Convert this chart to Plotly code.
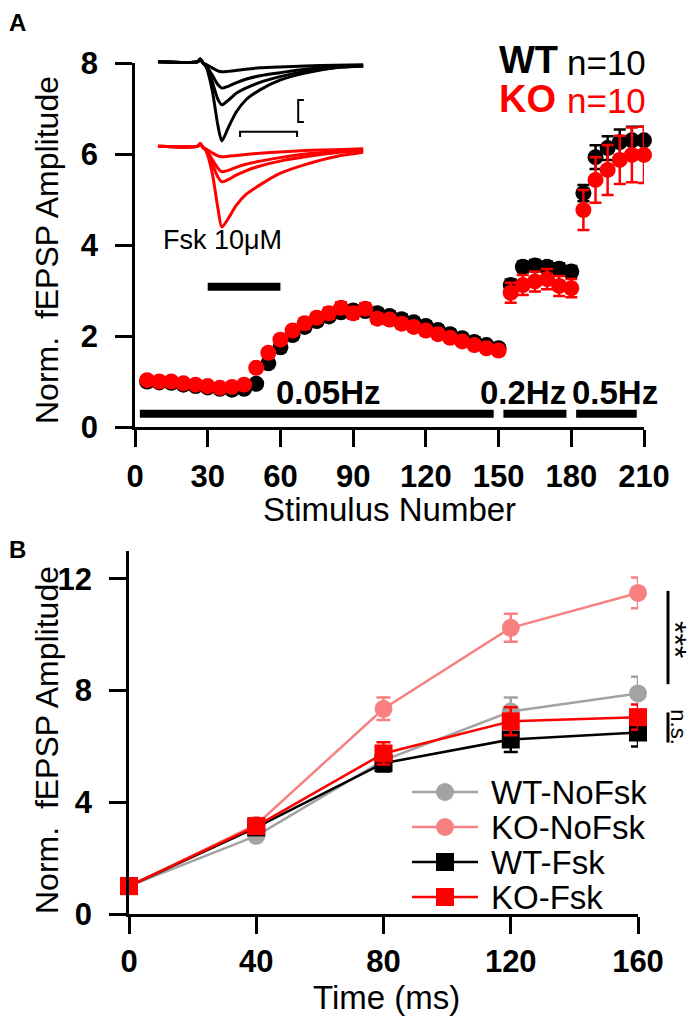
import plotly.graph_objects as go

# ---------------- DATA ----------------
# Panel A: stimulus numbers and normalized fEPSP amplitudes
stim_005 = [5, 10, 15, 20, 25, 30, 35, 40, 45, 50, 55, 60, 65, 70, 75, 80, 85, 90, 95, 100,
            105, 110, 115, 120, 125, 130, 135, 140, 145, 150]
wt_005 = [1.0, 0.98, 0.97, 0.93, 0.9, 0.87, 0.84, 0.82, 0.84, 0.95, 1.4, 1.75, 2.02, 2.2, 2.33,
          2.43, 2.52, 2.56, 2.55, 2.5, 2.44, 2.37, 2.3, 2.22, 2.13, 2.04, 1.95, 1.87, 1.8, 1.73]
ko_005 = [1.03, 1.0, 1.0, 0.96, 0.93, 0.9, 0.86, 0.88, 0.93, 1.3, 1.63, 1.92, 2.12, 2.28, 2.4,
          2.5, 2.62, 2.5, 2.6, 2.38, 2.36, 2.27, 2.2, 2.12, 2.04, 1.96, 1.88, 1.8, 1.73, 1.68]
wt_005_err = [0.05, 0.05, 0.05, 0.05, 0.05, 0.05, 0.05, 0.05, 0.06, 0.08, 0.1, 0.1, 0.1, 0.1, 0.1,
              0.1, 0.1, 0.1, 0.1, 0.1, 0.1, 0.1, 0.1, 0.1, 0.1, 0.1, 0.09, 0.09, 0.08, 0.08]
ko_005_err = [0.05, 0.05, 0.05, 0.05, 0.05, 0.05, 0.05, 0.05, 0.06, 0.08, 0.1, 0.1, 0.1, 0.11, 0.11,
              0.12, 0.12, 0.12, 0.12, 0.11, 0.1, 0.1, 0.1, 0.1, 0.1, 0.09, 0.09, 0.08, 0.08, 0.08]

stim_02 = [155, 160, 165, 170, 175, 180]
wt_02 = [3.12, 3.52, 3.55, 3.52, 3.48, 3.42]
ko_02 = [2.95, 3.12, 3.2, 3.25, 3.1, 3.05]
wt_02_err = [0.12, 0.12, 0.12, 0.12, 0.12, 0.12]
ko_02_err = [0.22, 0.22, 0.22, 0.22, 0.22, 0.2]

stim_05 = [185, 190, 195, 200, 205, 210]
wt_05 = [5.14, 5.93, 6.13, 6.26, 6.3, 6.3]
ko_05 = [4.77, 5.43, 5.65, 5.87, 5.98, 5.98]
wt_05_err = [0.18, 0.26, 0.26, 0.28, 0.3, 0.3]
ko_05_err = [0.44, 0.5, 0.55, 0.53, 0.6, 0.62]

# protocol bars (stimulus ranges)
protocol_labels = ["0.05Hz", "0.2Hz", "0.5Hz"]
protocol_start = [2, 152, 182]
protocol_end = [148, 178, 207]
protocol_label_x = [80, 160, 198]
fsk_start, fsk_end = 30, 60

# Inset traces (time in ms, amplitude in mV)
trace_t = [1.4, 8.4, 8.8, 9.3, 9.8, 10.9, 11.9, 12.6, 13.7, 15.1, 16.8, 19.3, 22.8, 27.2, 32.5, 37.4]
wt_traces = [
    [0, 0, 0.06, -0.03, -0.06, -0.14, -0.21, -0.23, -0.22, -0.2, -0.17, -0.14, -0.12, -0.1, -0.08, -0.07],
    [0, 0, 0.06, -0.03, -0.08, -0.3, -0.52, -0.6, -0.56, -0.48, -0.4, -0.32, -0.25, -0.17, -0.11, -0.09],
    [0, 0, 0.06, -0.03, -0.1, -0.45, -0.85, -0.98, -0.88, -0.72, -0.6, -0.47, -0.34, -0.22, -0.13, -0.1],
    [0, 0, 0.06, -0.03, -0.1, -0.64, -1.44, -1.8, -1.51, -1.15, -0.87, -0.64, -0.42, -0.26, -0.14, -0.1],
]
ko_traces = [
    [0, 0, 0.06, -0.03, -0.06, -0.15, -0.22, -0.24, -0.23, -0.21, -0.19, -0.16, -0.13, -0.1, -0.08, -0.06],
    [0, 0, 0.06, -0.03, -0.08, -0.3, -0.5, -0.58, -0.55, -0.48, -0.41, -0.34, -0.26, -0.18, -0.12, -0.08],
    [0, 0, 0.06, -0.03, -0.09, -0.4, -0.7, -0.81, -0.76, -0.66, -0.56, -0.45, -0.34, -0.24, -0.15, -0.1],
    [0, 0, 0.06, -0.03, -0.1, -0.6, -1.4, -1.84, -1.65, -1.35, -1.1, -0.88, -0.62, -0.42, -0.24, -0.14],
]
ko_trace_offset = -1.92
scale_ms = 10
scale_mv = 0.5

# Panel B
time_ms = [0, 40, 80, 120, 160]
groups = ["WT-NoFsk", "KO-NoFsk", "WT-Fsk", "KO-Fsk"]
wt_nofsk = [1.0, 2.8, 5.5, 7.25, 7.9]
ko_nofsk = [1.0, 3.2, 7.35, 10.25, 11.5]
wt_fsk = [1.0, 3.1, 5.4, 6.25, 6.5]
ko_fsk = [1.0, 3.15, 5.75, 6.9, 7.05]
wt_nofsk_err = [0, 0.1, 0.3, 0.5, 0.6]
ko_nofsk_err = [0, 0.1, 0.4, 0.5, 0.55]
wt_fsk_err = [0, 0.1, 0.3, 0.45, 0.5]
ko_fsk_err = [0, 0.1, 0.4, 0.5, 0.45]

# ---------------- FIGURE ----------------
OFF = 8  # page body margin
W, H = 700 - OFF, 1024 - OFF
def px(x):
    return (x - OFF) / W
def py(y):
    return 1 - (y - OFF) / H

FONT = "Liberation Sans, Arial, sans-serif"
BLACK = "#000000"
RED = "#ff0000"
GRAY = "#a3a3a3"
SALMON = "#f88080"

fig = go.Figure()

# Panel A traces
def add_a(x, y, e, color):
    fig.add_trace(go.Scatter(
        x=x, y=y, mode="markers", xaxis="x", yaxis="y", showlegend=False,
        marker=dict(color=color, size=16, line=dict(width=0)),
        error_y=dict(type="data", array=e, color=color, thickness=2.5, width=6),
        cliponaxis=False))

for xs, w, we in [(stim_005, wt_005, wt_005_err), (stim_02, wt_02, wt_02_err), (stim_05, wt_05, wt_05_err)]:
    add_a(xs, w, we, BLACK)
for xs, k, ke in [(stim_005, ko_005, ko_005_err), (stim_02, ko_02, ko_02_err), (stim_05, ko_05, ko_05_err)]:
    add_a(xs, k, ke, RED)

# Inset traces
for tr in wt_traces:
    fig.add_trace(go.Scatter(x=trace_t, y=tr, mode="lines", xaxis="x3", yaxis="y3",
                             line=dict(color=BLACK, width=3, shape="spline", smoothing=0.7),
                             showlegend=False))
for tr in ko_traces:
    fig.add_trace(go.Scatter(x=trace_t, y=[v + ko_trace_offset for v in tr], mode="lines",
                             xaxis="x3", yaxis="y3",
                             line=dict(color=RED, width=3, shape="spline", smoothing=0.7),
                             showlegend=False))

# Panel B traces
b_series = [
    (wt_nofsk, wt_nofsk_err, GRAY, "circle"),
    (ko_nofsk, ko_nofsk_err, SALMON, "circle"),
    (wt_fsk, wt_fsk_err, BLACK, "square"),
    (ko_fsk, ko_fsk_err, RED, "square"),
]
for name, (vals, errs, col, sym) in zip(groups, b_series):
    fig.add_trace(go.Scatter(
        x=time_ms, y=vals, name=name, mode="lines+markers", xaxis="x2", yaxis="y2",
        line=dict(color=col, width=2.5), showlegend=False,
        marker=dict(color=col, size=18, symbol=sym, line=dict(width=0)),
        error_y=dict(type="data", array=errs, color=col, thickness=2.5, width=7),
        cliponaxis=False))

axis_common = dict(showline=True, linecolor=BLACK, linewidth=2.5, ticks="outside",
                   ticklen=17, tickwidth=2.5, tickcolor=BLACK, showgrid=False, zeroline=False,
                   automargin=False,
                   tickfont=dict(family=FONT, size=31, color=BLACK, weight="bold"))

fig.update_layout(
    template="none",
    width=W, height=H, margin=dict(l=0, r=0, t=0, b=0, pad=0),
    paper_bgcolor="white", plot_bgcolor="white",
    font=dict(family=FONT, color=BLACK),
    showlegend=False,
    xaxis=dict(domain=[px(135), px(644)], range=[0, 210], tickvals=[0, 30, 60, 90, 120, 150, 180, 210],
               anchor="y", ticklabelstandoff=3, **axis_common),
    yaxis=dict(domain=[py(427), py(63)], range=[0, 8], tickvals=[0, 2, 4, 6, 8],
               anchor="x", ticklabelstandoff=11, **axis_common),
    xaxis2=dict(domain=[px(129), px(638)], range=[0, 160], tickvals=[0, 40, 80, 120, 160],
                anchor="y2", ticklabelstandoff=1, **axis_common),
    yaxis2=dict(domain=[py(914), py(551)], range=[0, 13], tickvals=[0, 4, 8, 12],
                anchor="x2", ticklabelstandoff=11, **axis_common),
    xaxis3=dict(domain=[px(150), px(365)], range=[0, 37.72], visible=False, anchor="y3"),
    yaxis3=dict(domain=[py(235), py(55)], range=[-3.939, 0.152], visible=False, anchor="x3"),
)

# Shapes: protocol bars, Fsk bar, significance lines, scale bars, legend samples
shapes = []
for s0, s1 in zip(protocol_start, protocol_end):
    shapes.append(dict(type="line", xref="x", yref="y", x0=s0, x1=s1, y0=0.29, y1=0.29,
                       line=dict(color=BLACK, width=8)))
shapes.append(dict(type="line", xref="x", yref="y", x0=fsk_start, x1=fsk_end, y0=3.08, y1=3.08,
                   line=dict(color=BLACK, width=8)))
shapes.append(dict(type="line", xref="paper", yref="y2", x0=px(668), x1=px(668), y0=11.57, y1=8.23,
                   line=dict(color=BLACK, width=3)))
shapes.append(dict(type="line", xref="paper", yref="y2", x0=px(668), x1=px(668), y0=7.22, y1=6.14,
                   line=dict(color=BLACK, width=3)))
# scale bars in inset
vb_t = 26.0
vb_top = -0.87
shapes.append(dict(type="path", xref="x3", yref="y3",
                   path=f"M {vb_t+1.0},{vb_top} L {vb_t},{vb_top} L {vb_t},{vb_top-scale_mv} L {vb_t+1.0},{vb_top-scale_mv}",
                   line=dict(color=BLACK, width=2)))
hb_y = -1.59
hb_t1 = 25.8
shapes.append(dict(type="path", xref="x3", yref="y3",
                   path=f"M {hb_t1-scale_ms},{hb_y-0.12} L {hb_t1-scale_ms},{hb_y} L {hb_t1},{hb_y} L {hb_t1},{hb_y-0.12}",
                   line=dict(color=BLACK, width=2)))

# manual legend for panel B
leg_rows = [792, 827, 862, 897]
leg_x0, leg_x1, leg_xm = 412, 478, 445
for (vals, errs, col, sym), ry in zip(b_series, leg_rows):
    shapes.append(dict(type="line", xref="paper", yref="paper", x0=px(leg_x0), x1=px(leg_x1),
                       y0=py(ry), y1=py(ry), line=dict(color=col, width=2.5)))
    shapes.append(dict(type="circle" if sym == "circle" else "rect", xref="paper", yref="paper",
                       xsizemode="pixel", ysizemode="pixel", xanchor=px(leg_xm), yanchor=py(ry),
                       x0=-9, x1=9, y0=-9, y1=9, fillcolor=col, line=dict(width=0)))
fig.update_layout(shapes=shapes)

ann = []
def A(text, x, y, size, bold=False, color=BLACK, xanchor="center", yanchor="middle",
      xref="paper", yref="paper", angle=0):
    ann.append(dict(text=text, x=x, y=y, xref=xref, yref=yref, showarrow=False,
                    xanchor=xanchor, yanchor=yanchor, textangle=angle, borderpad=0,
                    font=dict(family=FONT, size=size, color=color,
                              weight="bold" if bold else "normal")))

for name, ry in zip(groups, leg_rows):
    A(name, px(490), py(ry), 33, xanchor="left")

A("A", px(8), 1.0, 24, bold=True, xanchor="left", yanchor="top")
A("B", px(8), py(549), 24, bold=True, xanchor="left")
A("WT", px(559), py(60), 38, bold=True, xanchor="right")
A("n=10", px(566), py(62), 35, xanchor="left")
A("KO", px(557), py(99), 38, bold=True, color=RED, xanchor="right")
A("n=10", px(566), py(100), 35, color=RED, xanchor="left")
A("Fsk 10μM", 36, 4.11, 27, xref="x", yref="y")
for lab, lx in zip(protocol_labels, protocol_label_x):
    A(lab, lx, 0.75, 33, bold=True, xref="x", yref="y")
A("Norm.  fEPSP Amplitude", px(47), py(250), 32, angle=-90)
A("Stimulus Number", px(389), py(509), 33)
A("Norm.  fEPSP Amplitude", px(47), py(740), 32, angle=-90)
A("Time (ms)", px(386), py(997), 33)
A("***", px(675), 9.85, 32, xref="paper", yref="y2", angle=90)
A("n.s.", px(679), 6.72, 22, xref="paper", yref="y2", angle=90)
fig.update_layout(annotations=ann)

fig.write_html("out.html")
